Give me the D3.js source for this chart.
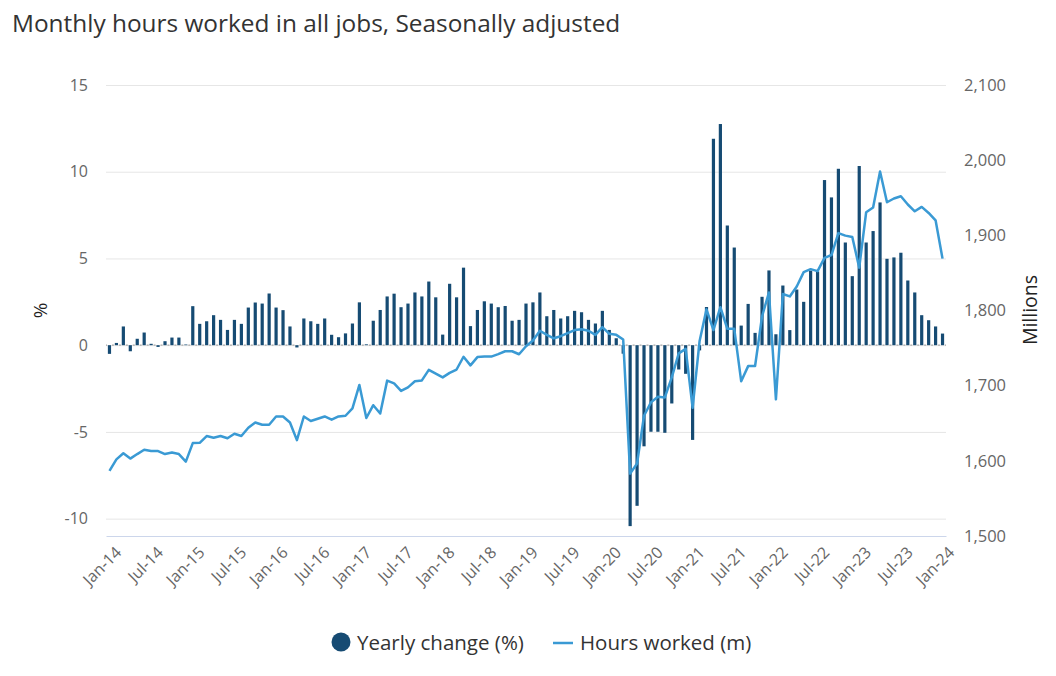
<!DOCTYPE html>
<html>
<head>
<meta charset="utf-8">
<script src="https://cdn.jsdelivr.net/npm/d3@7"></script>
<style>
  body { margin: 0; background: #fff; }
  svg { display: block; font-family: "Open Sans", "Noto Sans", sans-serif; }
</style>
</head>
<body>
<div id="chart"></div>
<script>
// Monthly categories Jan-14 .. Jan-24
const months = d3.utcMonth.range(new Date(Date.UTC(2014, 0, 1)), new Date(Date.UTC(2024, 1, 1)))
    .map(d => d3.utcFormat("%b-%y")(d));

// Yearly change (%)
const yearlyChange = [
    -0.5, 0.13, 1.08, -0.35, 0.37, 0.73, 0.08, -0.1, 0.23, 0.44, 0.44, 0.04,
    2.25, 1.23, 1.38, 1.73, 1.46, 0.88, 1.46, 1.23, 2.17, 2.46, 2.4, 2.98,
    2.17, 2.02, 1.08, -0.13, 1.54, 1.38, 1.23, 1.54, 0.6, 0.46, 0.68, 1.25,
    2.47, 0.05, 1.41, 2.03, 2.81, 2.97, 2.19, 2.4, 3.04, 2.81, 3.67, 2.76,
    0.61, 3.54, 2.76, 4.47, 1.1, 2.03, 2.53, 2.4, 2.19, 2.26, 1.41, 1.46,
    2.4, 2.47, 3.04, 1.67, 2.03, 1.54, 1.67, 1.98, 1.9, 1.46, 1.25, 1.98,
    0.88, 0.4, -0.49, -10.43, -9.26, -5.83, -4.99, -4.99, -5.05, -3.36, -1.4, -1.65,
    -5.46, -0.3, 2.2, 11.9, 12.75, 6.9, 5.63, 1.13, 2.38, 0.71, 2.79, 4.31,
    0.63, 3.44, 0.87, 3.21, 2.5, 4.3, 4.25, 9.52, 8.52, 10.17, 5.92, 3.98,
    10.33, 5.92, 6.58, 8.23, 4.98, 5.06, 5.33, 3.73, 3.04, 1.73, 1.44, 1.08,
    0.67
];

// Hours worked (millions)
const hoursWorked = [
    1586.7, 1602, 1610, 1603, 1609, 1614.7, 1613, 1613, 1609, 1611, 1609, 1599,
    1623.6, 1624, 1633, 1630.7, 1633, 1630, 1636, 1633, 1644, 1651, 1648, 1648,
    1659, 1659, 1651, 1627.6, 1659, 1653, 1656, 1659, 1654.7, 1659, 1660, 1669.8,
    1701, 1657, 1674, 1663, 1706.7, 1703, 1693, 1697.8, 1705.8, 1707, 1721, 1716,
    1711, 1717, 1721.5, 1738.5, 1727, 1738, 1738.7, 1738.7, 1742, 1745.8, 1745.8, 1741.8,
    1752.4, 1760, 1773, 1767.6, 1763, 1765.8, 1769.8, 1774, 1775, 1773, 1767.6, 1777.8,
    1769, 1767.6, 1761.3, 1583, 1596.4, 1660, 1677.8, 1685.3, 1684.4, 1711, 1743, 1749,
    1670.5, 1759, 1801.5, 1774, 1804.4, 1775.6, 1775.6, 1705.8, 1726, 1726.2, 1792, 1824,
    1681.8, 1822, 1818.7, 1832, 1851, 1855, 1852.4, 1870, 1873.8, 1903, 1899.6, 1897.8,
    1857, 1930.7, 1937, 1985, 1944, 1949, 1952, 1941, 1932, 1937.8, 1929.8, 1920,
    1869
];

const leftTicks = [-10, -5, 0, 5, 10, 15];
const rightTicks = [1500, 1600, 1700, 1800, 1900, 2000, 2100];
const xTickLabels = months.filter((m, i) => i % 6 === 0);

const width = 1056;
const height = 676;
const plotLeft = 106;
const plotRight = 946;
const plotTop = 85;
const plotBottom = 536;

const barColor = "#164b73";
const lineColor = "#3a9ad4";

const svg = d3.select("#chart").append("svg")
    .attr("width", width)
    .attr("height", height)
    .attr("viewBox", [0, 0, width, height]);

// Scales
const x = d3.scaleBand()
    .domain(months)
    .range([plotLeft, plotRight]);

const yLeft = d3.scaleLinear()
    .domain([-11, 15])
    .range([plotBottom, plotTop]);

const yRight = d3.scaleLinear()
    .domain([1500, 2100])
    .range([plotBottom, plotTop]);

const cx = d => x(d) + x.bandwidth() / 2;

// Title
svg.append("text")
    .attr("x", 12)
    .attr("y", 32)
    .attr("font-size", 24.4)
    .attr("fill", "#333")
    .text("Monthly hours worked in all jobs, Seasonally adjusted");

// Grid lines + left axis (plain hyphen for negatives, like the original)
svg.append("g")
    .attr("transform", `translate(${plotLeft},0)`)
    .call(d3.axisLeft(yLeft).tickValues(leftTicks).tickFormat(d => String(d))
        .tickSize(-(plotRight - plotLeft)).tickPadding(18))
    .call(g => g.select(".domain").remove())
    .call(g => g.selectAll(".tick line").attr("stroke", "#e6e6e6"))
    .call(g => g.selectAll(".tick text")
        .attr("font-size", 16)
        .attr("fill", "#666")
        .attr("font-family", "Open Sans, sans-serif"));

// Right axis
svg.append("g")
    .attr("transform", `translate(${plotRight},0)`)
    .call(d3.axisRight(yRight).tickValues(rightTicks).tickFormat(d3.format(",")).tickSize(0).tickPadding(18))
    .call(g => g.select(".domain").remove())
    .call(g => g.selectAll(".tick text")
        .attr("font-size", 16.5)
        .attr("fill", "#666")
        .attr("font-family", "Open Sans, sans-serif"));

// Bottom axis
svg.append("g")
    .attr("transform", `translate(0,${plotBottom})`)
    .call(d3.axisBottom(x).tickValues(xTickLabels).tickSize(0).tickPadding(12))
    .call(g => g.select(".domain").attr("stroke", "#ccd6eb"))
    .call(g => g.selectAll(".tick text")
        .attr("font-size", 16)
        .attr("fill", "#666")
        .attr("font-family", "Open Sans, sans-serif")
        .attr("text-anchor", "end")
        .attr("dx", "-0.2em")
        .attr("dy", "0.6em")
        .attr("transform", "rotate(-45)"));

// Dotted zero line
svg.append("line")
    .attr("x1", plotLeft)
    .attr("x2", plotRight)
    .attr("y1", yLeft(0))
    .attr("y2", yLeft(0))
    .attr("stroke", "#aaa")
    .attr("stroke-width", 1.2)
    .attr("stroke-dasharray", `2,${x.bandwidth() - 2}`)
    .attr("stroke-dashoffset", 1);

// Bars
svg.append("g")
    .attr("fill", barColor)
    .selectAll("rect")
    .data(yearlyChange)
    .join("rect")
        .attr("x", (d, i) => cx(months[i]) - 1.6)
        .attr("y", d => yLeft(Math.max(0, d)))
        .attr("width", 3.2)
        .attr("height", d => Math.abs(yLeft(d) - yLeft(0)));

// Line
const line = d3.line()
    .x((d, i) => cx(months[i]))
    .y(d => yRight(d));

svg.append("path")
    .datum(hoursWorked)
    .attr("fill", "none")
    .attr("stroke", lineColor)
    .attr("stroke-width", 2.5)
    .attr("stroke-linejoin", "round")
    .attr("d", line);

// Axis titles
svg.append("text")
    .attr("transform", `translate(47,${(plotTop + plotBottom) / 2}) rotate(-90)`)
    .attr("text-anchor", "middle")
    .attr("font-size", 19)
    .attr("fill", "#222")
    .text("%");

svg.append("text")
    .attr("transform", `translate(1037,310) rotate(-90)`)
    .attr("text-anchor", "middle")
    .attr("font-size", 19.5)
    .attr("fill", "#222")
    .text("Millions");

// Legend
const legend = svg.append("g").attr("font-size", 20.5).attr("fill", "#333");

legend.append("circle")
    .attr("cx", 341)
    .attr("cy", 642)
    .attr("r", 9.5)
    .attr("fill", barColor);

legend.append("text")
    .attr("x", 357)
    .attr("y", 650)
    .text("Yearly change (%)");

legend.append("line")
    .attr("x1", 553)
    .attr("x2", 573)
    .attr("y1", 643)
    .attr("y2", 643)
    .attr("stroke", lineColor)
    .attr("stroke-width", 2.5);

legend.append("text")
    .attr("x", 580)
    .attr("y", 650)
    .text("Hours worked (m)");
</script>
</body>
</html>
